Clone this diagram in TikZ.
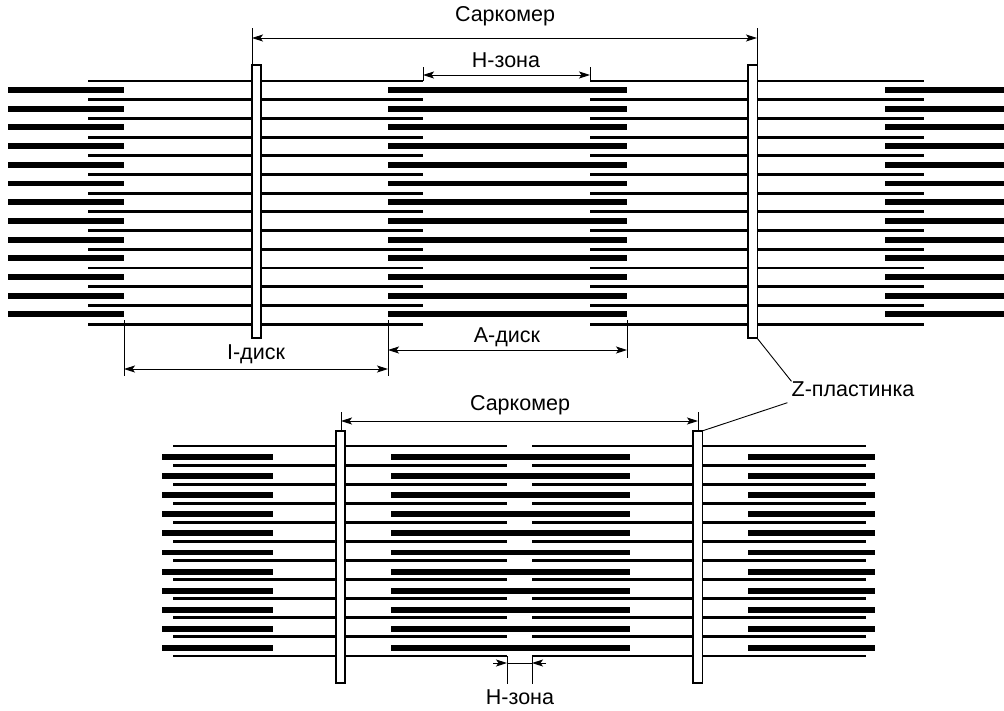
\documentclass[tikz,border=0pt]{standalone}
\usepackage{fontspec}
\setmainfont{Liberation Sans}
\usetikzlibrary{arrows.meta}

\begin{document}
\begin{tikzpicture}[x=1pt,y=-1pt,>={Stealth[length=11pt,width=7pt,inset=2.5pt]},
                    thin fil/.style={line width=2.9pt},
                    thick fil/.style={line width=5.9pt},
                    zdisc/.style={draw,fill=white,line width=1.6pt},
                    dim/.style={line width=0.9pt},
                    lbl/.style={font=\fontsize{21.5}{25}\selectfont,inner sep=0pt}]
  \useasboundingbox (0,0) rectangle (1004,710);

  % relaxed sarcomere
  \foreach \k in {0,...,13} {
    \draw[thin fil] (88,81+18.7*\k) -- (423,81+18.7*\k);
    \draw[thin fil] (590,81+18.7*\k) -- (924,81+18.7*\k);
  }
  \foreach \k in {0,...,12} {
    \draw[thick fil] (8,90+18.7*\k) -- (124,90+18.7*\k);
    \draw[thick fil] (388,90+18.7*\k) -- (627,90+18.7*\k);
    \draw[thick fil] (885,90+18.7*\k) -- (1004,90+18.7*\k);
  }
  \draw[zdisc] (252,65) rectangle (261,338);
  \draw[zdisc] (748,65) rectangle (757.5,338);

  % contracted sarcomere
  \foreach \k in {0,...,11} {
    \draw[thin fil] (173,446+19.09*\k) -- (507,446+19.09*\k);
    \draw[thin fil] (532,446+19.09*\k) -- (866,446+19.09*\k);
  }
  \foreach \k in {0,...,10} {
    \draw[thick fil] (162,457+19.1*\k) -- (273,457+19.1*\k);
    \draw[thick fil] (391,457+19.1*\k) -- (630,457+19.1*\k);
    \draw[thick fil] (748,457+19.1*\k) -- (875,457+19.1*\k);
  }
  \draw[zdisc] (336,431) rectangle (345,683);
  \draw[zdisc] (693,431) rectangle (702.5,683);

  % dimension points
  \coordinate (s1a) at (252,38);   \coordinate (s1b) at (757,38);
  \coordinate (h1a) at (423,75);   \coordinate (h1b) at (590,75);
  \coordinate (ia)  at (124,369);  \coordinate (ib)  at (388,369);
  \coordinate (aa)  at (388,350);  \coordinate (ab)  at (627,350);
  \coordinate (s2a) at (341,421);  \coordinate (s2b) at (698,421);
  \coordinate (h2a) at (507,663);  \coordinate (h2b) at (532,663);
  \coordinate (h2l) at (493,663);  \coordinate (h2r) at (546,663);
  \coordinate (z1)  at (757,338);  \coordinate (z2)  at (702,431);

  % labels
  \node[lbl] (sark1) at (505,16)  {Саркомер};
  \node[lbl] (hz1)   at (506,60)  {H-зона};
  \node[lbl] (idisk) at (256,354) {I-диск};
  \node[lbl] (adisk) at (507,337) {А-диск};
  \node[lbl] (zpl)   at (853,389) {Z-пластинка};
  \node[lbl] (sark2) at (520,405) {Саркомер};
  \node[lbl] (hz2)   at (520,697) {H-зона};

  % extension lines
  \draw[dim] (252,28) -- (252,65)  (757,28) -- (757,65);
  \draw[dim] (423,67) -- (423,81)  (590,67) -- (590,81);
  \draw[dim] (124,320) -- (124,376)  (388,320) -- (388,376)  (627,320) -- (627,358);
  \draw[dim] (341,412) -- (341,431)  (698,412) -- (698,431);
  \draw[dim] (507,656) -- (507,684)  (532,656) -- (532,684);

  % arrows
  \draw[dim,<->] (s1a) -- (s1b);
  \draw[dim,<->] (h1a) -- (h1b);
  \draw[dim,<->] (ia) -- (ib);
  \draw[dim,<->] (aa) -- (ab);
  \draw[dim,<->] (s2a) -- (s2b);
  \draw[dim,->] (h2l) -- (h2a);
  \draw[dim,->] (h2r) -- (h2b);
  \draw[dim] (h2a) -- (h2b);

  % leaders to the Z discs
  \draw[dim] (z1) -- (zpl.north west);
  \draw[dim] (zpl.south west) ++(-4,6) -- (z2);
\end{tikzpicture}
\end{document}
